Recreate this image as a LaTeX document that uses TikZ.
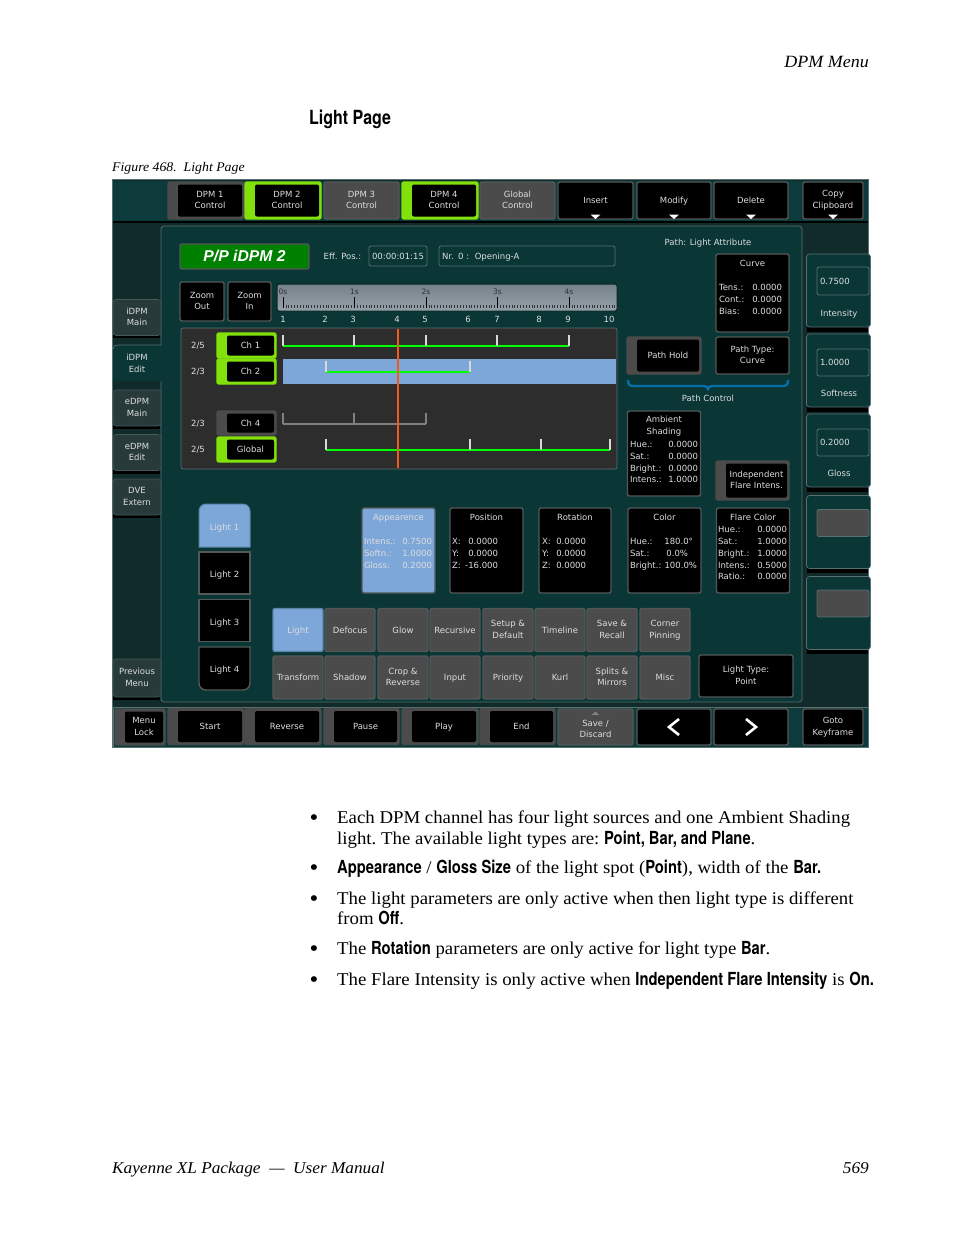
\documentclass[tikz,border=0pt]{standalone}
\usepackage{fontspec}
\setmainfont[FakeStretch=1.045]{Liberation Serif}
\newfontfamily\narrowfont[FakeStretch=0.82]{TeX Gyre Heros}
\newfontfamily\uifont{DejaVu Sans}
\newfontfamily\keyfont{Liberation Sans}
\definecolor{scrdark}{RGB}{17,42,42}
\definecolor{barfill}{RGB}{13,58,58}
\definecolor{panelfill}{RGB}{10,54,54}
\definecolor{panelline}{RGB}{88,112,112}
\definecolor{tabfill}{RGB}{40,58,58}
\definecolor{btngray}{RGB}{75,75,75}
\definecolor{btnline}{RGB}{82,88,88}
\definecolor{lime}{RGB}{130,225,10}
\definecolor{selblue}{RGB}{125,166,217}
\definecolor{trackfill}{RGB}{45,45,45}
\definecolor{uitext}{RGB}{222,222,222}
\definecolor{cursorred}{RGB}{240,90,32}
\definecolor{bracefill}{RGB}{8,110,168}
\definecolor{keygreen}{RGB}{0,128,0}
\definecolor{rulertop}{RGB}{118,130,138}
\definecolor{rulerbot}{RGB}{150,160,168}
\newcommand{\nb}[1]{{\narrowfont\bfseries #1}}
\newcommand{\uisize}{\fontsize{8.5}{11.7}\selectfont}
\newcommand{\uistrut}{\rule[-1.5pt]{0pt}{9.5pt}}
\newcommand{\vals}[2]{\begin{tabular*}{#1pt}{@{\extracolsep{\fill}}l@{}r@{}}#2\end{tabular*}}
\tikzstyle{uibox}=[inner sep=0pt, outer sep=0pt, align=center, text=uitext, font=\uifont\uisize, execute at begin node=\uistrut, execute at end node=\uistrut]
\tikzstyle{blackbtn}=[uibox, draw=btnline, line width=1.4pt, fill=black, rounded corners=2pt]
\tikzstyle{graybtn}=[uibox, draw=btnline, line width=1.4pt, fill=btngray, rounded corners=2pt]
\tikzstyle{blackin}=[uibox, fill=black, rounded corners=2pt]
\tikzstyle{uitxt}=[uibox]
\tikzstyle{topbtn}=[minimum width=75pt, minimum height=37pt]
\tikzstyle{botbtn}=[minimum width=75pt, minimum height=35pt]
\tikzstyle{pagebtn}=[graybtn, minimum width=50pt, minimum height=43pt]
\tikzstyle{lightbtn}=[blackbtn, minimum width=51pt, minimum height=42pt]
\tikzstyle{readbox}=[blackbtn, minimum width=73pt, minimum height=85pt]
\tikzstyle{sidetab}=[uibox, fill=tabfill, draw=panelline!60!tabfill, line width=.6pt, rounded corners=3pt, minimum width=48pt, minimum height=36pt]
\tikzstyle{sidecard}=[uibox, fill=panelfill, draw=panelline, line width=.7pt, rounded corners=3pt, minimum width=64pt, minimum height=73pt]
\tikzstyle{field}=[uibox, fill=panelfill, draw=panelline, line width=.8pt, rounded corners=2pt]
\tikzstyle{emptyfield}=[uibox, fill=btngray, draw=panelline, line width=.8pt, rounded corners=2pt, minimum width=52pt, minimum height=27pt]
\tikzstyle{bodyline}=[inner sep=0pt, anchor=base west, font=\frenchspacing\fontsize{18}{21}\selectfont]
\tikzstyle{bigbullet}=[inner sep=0pt, anchor=base west, font=\fontsize{24}{24}\selectfont]
\tikzstyle{chline}=[line width=1.5pt]
\tikzstyle{chtick}=[line width=1.1pt, draw=white!85!black]
\newcommand{\selbtn}[7]{%
  \node[graybtn, fill=#6, draw=#6, minimum width=#4pt, minimum height=#5pt] (#1) at (#2,#3) {};
  \node[blackin, minimum width=\dimexpr#4pt-12pt\relax, minimum height=\dimexpr#5pt-5pt\relax] (#1t) at ([xshift=4pt]#1.center) {#7};
}
\begin{document}
\begin{tikzpicture}[x=1pt, y=-1pt]
  \path[fill=white, use as bounding box] (0,0) rectangle (954,1235);
  \node[inner sep=0pt, anchor=base east, font=\itshape\fontsize{17.2}{21}\selectfont] (pagehead) at (869,67) {DPM Menu};
  \node[inner sep=0pt, anchor=base west, font=\fontsize{19.5}{21}\selectfont] (sectitle) at (309,124) {\nb{Light Page}};
  \node[inner sep=0pt, anchor=base west, font=\itshape\fontsize{13.2}{17}\selectfont] (figcap) at (112,171.5) {Figure 468.\ \ Light Page};

  \path[fill=scrdark, draw=panelline, line width=.6pt] (112.5,179.5) rectangle (868.5,747.5);
  \path[fill=barfill] (113,181) rectangle (868,221);
  \path[fill=black] (113,221) rectangle (868,223);
  \path[fill=barfill, draw=panelline, line width=.6pt] (113,707) rectangle (868,747);
  \foreach \y in {335,426,471,515,697}
    \path[fill=black] (113,\y-1) rectangle (160,\y+3);
  \path[fill=panelfill, draw=panelline, line width=.7pt, rounded corners=3pt] (161,226) rectangle (802,702);

  \selbtn{dpmone}{206}{200.5}{76}{37}{btngray}{DPM 1\\Control}
  \selbtn{dpmtwo}{283}{200.5}{76}{37}{lime}{DPM 2\\Control}
  \node[graybtn, topbtn] (dpmthree) at (361.5,200.5) {DPM 3\\Control};
  \selbtn{dpmfour}{440}{200.5}{76}{37}{lime}{DPM 4\\Control}
  \node[graybtn, topbtn] (globalctl) at (517.5,200.5) {Global\\Control};
  \node[blackbtn, topbtn] (insert) at (595.5,200.5) {Insert};
  \node[blackbtn, topbtn, minimum width=74pt] (modify) at (674,200.5) {Modify};
  \node[blackbtn, topbtn, minimum width=74pt] (delete) at (751,200.5) {Delete};
  \node[blackbtn, topbtn, minimum width=60pt] (copyclip) at (833,200.5) {Copy\\Clipboard};
  \foreach \btn in {insert,modify,delete,copyclip}
    \path[fill=white] ([xshift=-5pt,yshift=4.5pt]\btn.south) -- ([xshift=5pt,yshift=4.5pt]\btn.south) -- (\btn.south) -- cycle;

  \node[sidetab] (idpmmain) at (137,317.5) {iDPM\\Main};
  \path[fill=panelfill, rounded corners=3pt] (113,345) rectangle (165,381);
  \draw[draw=panelline, line width=.6pt] (161,345) -- (118,345) .. controls (115,345) and (113,346) .. (113,349);
  \node[uitxt] (idpmedit) at (137,364) {iDPM\\Edit};
  \node[sidetab] (edpmmain) at (137,408) {eDPM\\Main};
  \node[sidetab] (edpmedit) at (137,452.5) {eDPM\\Edit};
  \node[sidetab] (dveextern) at (137,497) {DVE\\Extern};
  \node[sidetab, minimum height=38pt] (prevmenu) at (137,678) {Previous\\Menu};

  \node[blackbtn, minimum width=129pt, minimum height=25pt, fill=keygreen, text=white, font=\keyfont\bfseries\itshape\fontsize{15.7}{17}\selectfont] (keyname) at (244.5,256.5) {P/P iDPM 2};
  \node[uitxt] (efflabel) at (342.5,256.5) {Eff. Pos.:};
  \node[field, minimum width=58pt, minimum height=20pt] (efffield) at (398,256) {00:00:01:15};
  \node[field, minimum width=176pt, minimum height=20pt, text width=170pt, align=left] (nrfield) at (527,256) {Nr. 0 :\ \ Opening-A};

  \node[blackbtn, minimum width=44pt, minimum height=39pt] (zoomout) at (202,301.5) {Zoom\\Out};
  \node[blackbtn, minimum width=43pt, minimum height=39pt] (zoomin) at (249.5,301.5) {Zoom\\In};

  \node[uibox, draw=panelfill!70!black, line width=1pt, top color=rulertop, bottom color=rulerbot, rounded corners=2pt, minimum width=340pt, minimum height=27pt] (ruler) at (447,297.5) {};
  \foreach \t in {0,...,116}
    \draw[line width=.6pt, black!80] ({283+\t*2.86},305) -- ({283+\t*2.86},308);
  \foreach \s in {0,...,4} {
    \draw[line width=.7pt, black] ({283+\s*71.5},297) -- ({283+\s*71.5},308);
    \node[uitxt, text=black!80, font=\uifont\fontsize{7.5}{9}\selectfont] (sec\s) at ({283+\s*71.5},291.5) {\s s};
  }
  \foreach \n/\x in {1/283,2/325,3/353,4/397,5/425,6/468,7/497,8/539,9/568,10/609}
    \node[uitxt] (mark\n) at (\x,319.5) {\n};

  \path[fill=trackfill, draw=panelline, line width=.7pt, rounded corners=2pt] (181,328) rectangle (617,469);
  \path[fill=selblue] (283,359) rectangle (616,384);
  \node[uitxt] (ratioa) at (198,345.5) {2/5};
  \node[uitxt] (ratiob) at (198,371.5) {2/3};
  \node[uitxt] (ratioc) at (198,423.5) {2/3};
  \node[uitxt] (ratiod) at (198,449.5) {2/5};
  \selbtn{chone}{246.5}{345.5}{59}{25}{lime}{Ch 1}
  \selbtn{chtwo}{246.5}{371.5}{59}{25}{lime}{Ch 2}
  \selbtn{chfour}{246.5}{423}{59}{24}{btngray}{Ch 4}
  \selbtn{chglobal}{246.5}{449.5}{59}{25}{lime}{Global}

  \draw[chline, draw=green] (283,346) -- (569,346);
  \foreach \x in {283,354,426,497,569} \draw[chtick] (\x,335) -- (\x,346);
  \draw[chline, draw=green] (326,372) -- (470,372);
  \foreach \x in {326,398,470} \draw[chtick] (\x,361) -- (\x,372);
  \draw[chline, draw=gray] (283,424) -- (426,424);
  \foreach \x in {283,354,426} \draw[chtick, draw=gray] (\x,413) -- (\x,424);
  \draw[chline, draw=green] (326,450) -- (610,450);
  \foreach \x in {326,398,470,541,610} \draw[chtick] (\x,439) -- (\x,450);
  \draw[line width=1.4pt, draw=cursorred] (398,329) -- (398,468);

  \node[uitxt] (pathattr) at (708,242) {Path: Light Attribute};
  \node[readbox, minimum height=78pt] (curvebox) at (752.5,293) {};
  \node[uitxt] (curvetitle) at (752.5,263) {Curve};
  \node[uitxt] (curvevals) at (750.5,300) {\vals{63}{Tens.: & 0.0000\\Cont.: & 0.0000\\Bias: & 0.0000}};
  \selbtn{pathhold}{664}{355.5}{74}{37}{btngray}{Path Hold}
  \node[blackbtn, minimum width=73pt, minimum height=37pt] (pathtype) at (752.5,355.5) {Path Type:\\Curve};
  \draw[line width=2.4pt, draw=bracefill] (628,380) .. controls (628,385) and (630,386) .. (634,386) -- (702,386) .. controls (706,386) and (708,387) .. (708,389) .. controls (708,387) and (710,386) .. (714,386) -- (782,386) .. controls (786,386) and (788,385) .. (788,380);
  \node[uitxt] (pathctl) at (708,398) {Path Control};

  \node[readbox, minimum height=85pt] (ambientbox) at (664,453.5) {};
  \node[uitxt] (ambienttitle) at (664,426) {Ambient\\Shading};
  \node[uitxt] (ambientvals) at (664,463) {\vals{68}{Hue.: & 0.0000\\Sat.: & 0.0000\\Bright.: & 0.0000\\Intens.: & 1.0000}};
  \selbtn{flareint}{752.5}{480.5}{73}{39}{btngray}{Independent\\Flare Intens.}

  \node[readbox, fill=selblue] (appearbox) at (398.5,550.5) {};
  \node[uitxt] (appeartitle) at (398.5,517.5) {Appearence};
  \node[uitxt] (appearvals) at (398,554) {\vals{68}{Intens.: & 0.7500\\Softn.: & 1.0000\\Gloss: & 0.2000}};
  \node[readbox] (posbox) at (486.5,550.5) {};
  \node[uitxt] (postitle) at (486.5,517.5) {Position};
  \node[uitxt] (posvals) at (475,554) {\vals{46}{X: & 0.0000\\Y: & 0.0000\\Z: & -16.000}};
  \node[readbox, minimum width=72pt] (rotbox) at (575,550.5) {};
  \node[uitxt] (rottitle) at (575,517.5) {Rotation};
  \node[uitxt] (rotvals) at (564,554) {\vals{44}{X: & 0.0000\\Y: & 0.0000\\Z: & 0.0000}};
  \node[readbox] (colorbox) at (664.5,550.5) {};
  \node[uitxt] (colortitle) at (664.5,517.5) {Color};
  \node[uitxt] (colorvals) at (663.5,554) {\vals{67}{Hue.: & 180.0\textdegree\hspace*{4pt}\\Sat.: & 0.0\%\hspace*{9pt}\\Bright.: & 100.0\%}};
  \node[readbox] (flarebox) at (753,550.5) {};
  \node[uitxt] (flaretitle) at (753,517.5) {Flare Color};
  \node[uitxt] (flarevals) at (752.5,554) {\vals{69}{Hue.: & 0.0000\\Sat.: & 1.0000\\Bright.: & 1.0000\\Intens.: & 0.5000\\Ratio.: & 0.0000}};

  \draw[fill=selblue, draw=selblue!70!panelfill, line width=1pt] (199,547) [rounded corners=7pt] -- (199,504) -- (250,504) [sharp corners] -- (250,547) -- cycle;
  \node[uitxt] (lightone) at (224.5,527.5) {Light 1};
  \node[lightbtn, rounded corners=0pt] (lighttwobtn) at (224.5,573) {};
  \node[uitxt] (lighttwo) at (224.5,574.5) {Light 2};
  \node[lightbtn, rounded corners=0pt] (lightthreebtn) at (224.5,620.5) {};
  \node[uitxt] (lightthree) at (224.5,622) {Light 3};
  \draw[fill=black, draw=btnline, line width=1.4pt] (199,647) [rounded corners=0pt] -- (250,647) [rounded corners=7pt] -- (250,690) -- (199,690) [sharp corners] -- cycle;
  \node[uitxt] (lightfour) at (224.5,669.5) {Light 4};

  \node[pagebtn, fill=selblue, draw=selblue!70!panelfill] (pagelight) at (298,630) {Light};
  \node[pagebtn] (pagedefocus) at (350,630) {Defocus};
  \node[pagebtn] (pageglow) at (403,630) {Glow};
  \node[pagebtn] (pagerecur) at (455,630) {Recursive};
  \node[pagebtn] (pagesetup) at (508,630) {Setup \&\\Default};
  \node[pagebtn] (pagetime) at (560,630) {Timeline};
  \node[pagebtn] (pagesave) at (612,630) {Save \&\\Recall};
  \node[pagebtn] (pagecorner) at (665,630) {Corner\\Pinning};
  \node[pagebtn] (pagetrans) at (298,677.5) {Transform};
  \node[pagebtn] (pageshadow) at (350,677.5) {Shadow};
  \node[pagebtn] (pagecrop) at (403,677.5) {Crop \&\\Reverse};
  \node[pagebtn] (pageinput) at (455,677.5) {Input};
  \node[pagebtn] (pageprio) at (508,677.5) {Priority};
  \node[pagebtn] (pagekurl) at (560,677.5) {Kurl};
  \node[pagebtn] (pagesplit) at (612,677.5) {Splits \&\\Mirrors};
  \node[pagebtn] (pagemisc) at (665,677.5) {Misc};
  \node[blackbtn, minimum width=94pt, minimum height=42pt] (lighttype) at (746,676) {Light Type:\\Point};

  \foreach \y in {291,371,451,532,613}
    \path[fill=black] (807,\y-7) rectangle (868,\y+41);
  \node[sidecard] (cardintens) at (838.5,290.5) {};
  \node[sidecard] (cardsoft) at (838.5,370.5) {};
  \node[sidecard] (cardgloss) at (838.5,450.5) {};
  \node[sidecard] (cardspareone) at (838.5,532) {};
  \node[sidecard] (cardsparetwo) at (838.5,613) {};
  \node[field, minimum width=52pt, minimum height=28pt, text width=46pt, align=left] (intensfield) at (843,281) {0.7500};
  \node[uitxt] (intenslabel) at (839,313) {Intensity};
  \node[field, minimum width=52pt, minimum height=27pt, text width=46pt, align=left] (softfield) at (843,362.5) {1.0000};
  \node[uitxt] (softlabel) at (839,393.5) {Softness};
  \node[field, minimum width=52pt, minimum height=27pt, text width=46pt, align=left] (glossfield) at (843,442.5) {0.2000};
  \node[uitxt] (glosslabel) at (839,473.5) {Gloss};
  \node[emptyfield] (spareonefield) at (843,523) {};
  \node[emptyfield] (sparetwofield) at (843,603.5) {};

  \selbtn{menulock}{140}{727}{50}{36}{btngray}{Menu\\Lock}
  \selbtn{start}{206}{726.5}{76}{36}{btngray}{Start}
  \selbtn{reverse}{283}{726.5}{76}{36}{btngray}{Reverse}
  \selbtn{pausebtn}{361.5}{726.5}{75}{36}{btngray}{Pause}
  \selbtn{playbtn}{440}{726.5}{76}{36}{btngray}{Play}
  \selbtn{endbtn}{517.5}{726.5}{75}{36}{btngray}{End}
  \node[graybtn, botbtn, minimum height=36pt] (savediscard) at (595.5,727) {};
  \node[uitxt] (savetext) at (595.5,729.5) {Save /\\Discard};
  \path[fill=gray] ([xshift=-4pt,yshift=-6pt]savediscard.north) -- ([xshift=4pt,yshift=-6pt]savediscard.north) -- ([yshift=-2.5pt]savediscard.north) -- cycle;
  \node[blackbtn, botbtn, minimum width=74pt, minimum height=36pt] (prevbtn) at (674,727) {};
  \node[blackbtn, botbtn, minimum width=74pt, minimum height=36pt] (nextbtn) at (751,727) {};
  \node[blackbtn, botbtn, minimum width=60pt, minimum height=36pt] (gotokey) at (833,727) {Goto\\Keyframe};
  \draw[white, line width=2.6pt] ([xshift=5pt,yshift=8pt]prevbtn.center) -- ([xshift=-5pt]prevbtn.center) -- ([xshift=5pt,yshift=-8pt]prevbtn.center);
  \draw[white, line width=2.6pt] ([xshift=-5pt,yshift=8pt]nextbtn.center) -- ([xshift=5pt]nextbtn.center) -- ([xshift=-5pt,yshift=-8pt]nextbtn.center);

  \foreach \i/\y in {1/825,2/875,3/906,4/956,5/987}
    \node[bigbullet] (bullet\i) at (309.5,\y) {\textbullet};
  \node[bodyline] (lineone) at (337,823) {Each DPM channel has four light sources and one Ambient Shading};
  \node[bodyline] (linetwo) at (337,844) {light. The available light types are: \nb{Point, Bar, and Plane}.};
  \node[bodyline] (linethree) at (337,873) {\nb{Appearance} / \nb{Gloss Size} of the light spot (\nb{Point}), width of the \nb{Bar.}};
  \node[bodyline] (linefour) at (337,904) {The light parameters are only active when then light type is different};
  \node[bodyline] (linefive) at (337,924) {from \nb{Off}.};
  \node[bodyline] (linesix) at (337,954) {The \nb{Rotation} parameters are only active for light type \nb{Bar}.};
  \node[bodyline] (lineseven) at (337,985) {The Flare Intensity is only active when \nb{Independent Flare Intensity} is \nb{On.}};

  \node[inner sep=0pt, anchor=base west, font=\itshape\fontsize{16.5}{21}\selectfont] (footleft) at (112,1173) {Kayenne XL Package\ \ ---\ \ User Manual};
  \node[inner sep=0pt, anchor=base east, font=\itshape\fontsize{16.5}{21}\selectfont] (footright) at (869,1173) {569};
\end{tikzpicture}
\end{document}
